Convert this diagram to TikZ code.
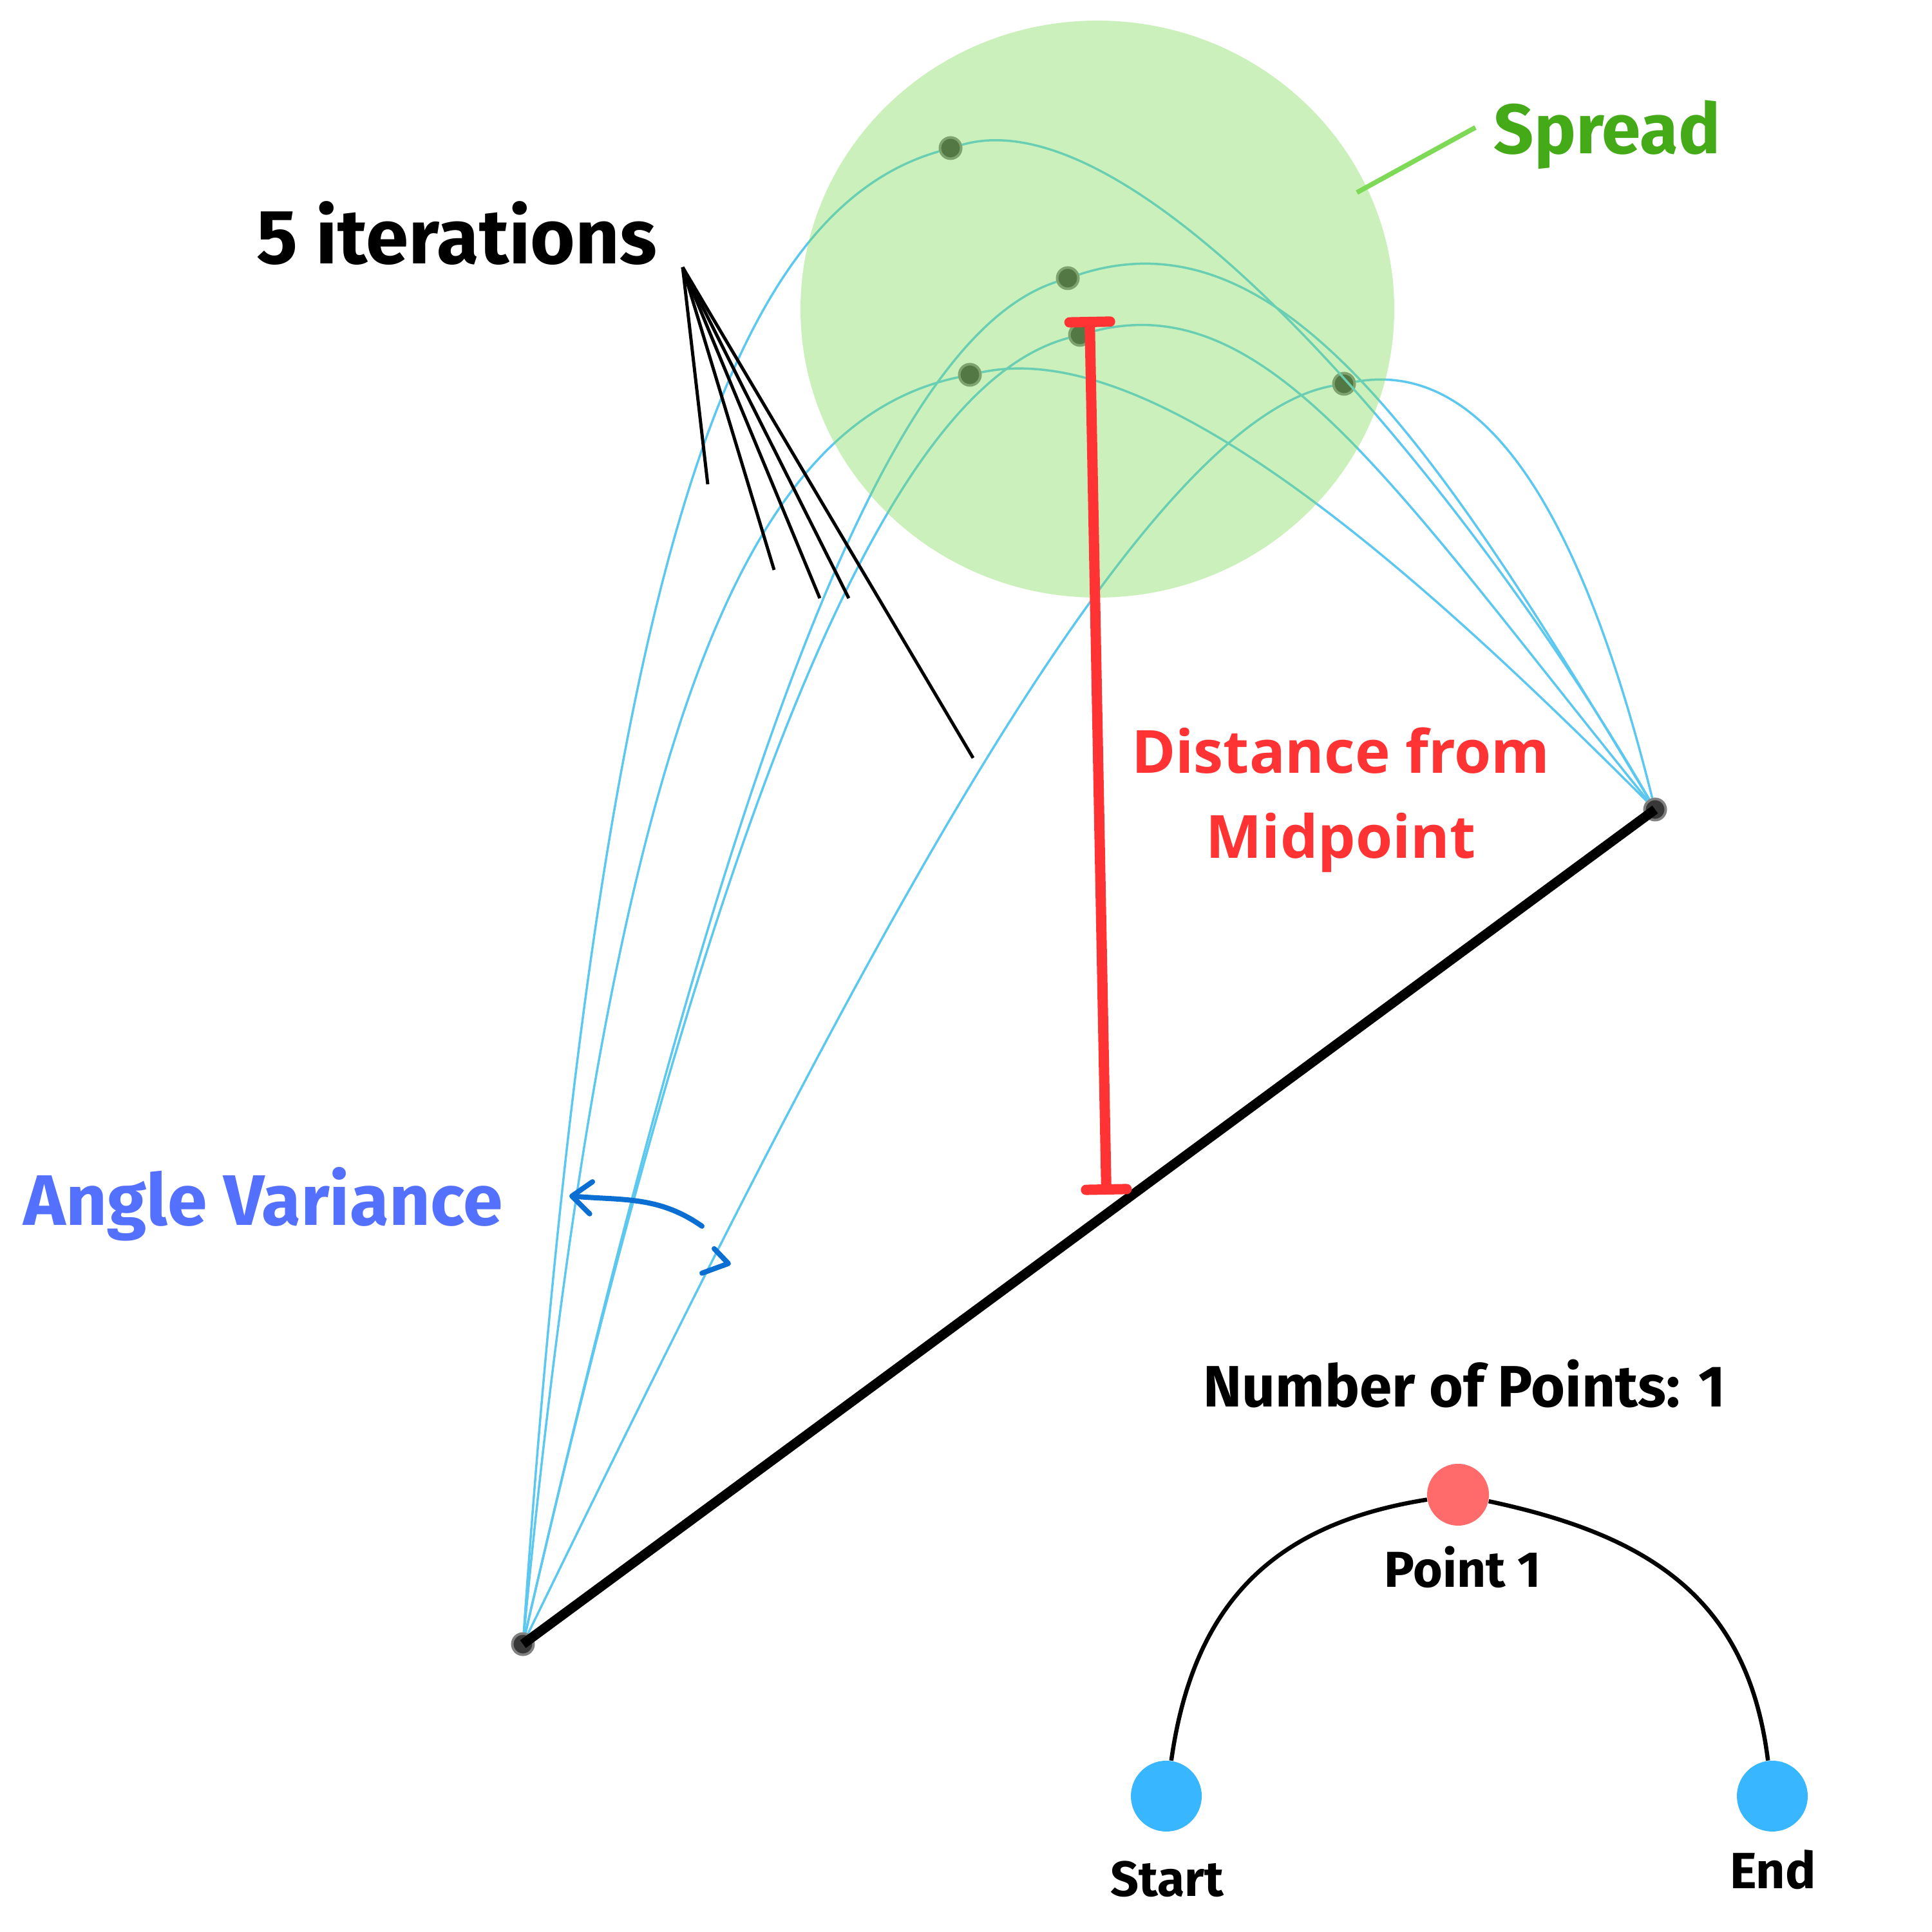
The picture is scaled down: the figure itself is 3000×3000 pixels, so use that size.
\documentclass[tikz,border=0pt]{standalone}
\usepackage{fontspec}
\setmainfont{Fira Sans}
\newfontfamily\redfont{Open Sans}
\usepackage{tikz}
\usetikzlibrary{arrows.meta, positioning}
\definecolor{trailblue}{RGB}{92, 200, 240}
\definecolor{spreadgreen}{RGB}{126, 217, 87}
\definecolor{labelgreen}{RGB}{68, 170, 23}
\definecolor{distred}{RGB}{255, 51, 51}
\definecolor{anglecol}{RGB}{84, 112, 255}
\definecolor{arrowblue}{RGB}{10, 110, 210}
\definecolor{endblue}{RGB}{56, 182, 255}
\definecolor{pointred}{RGB}{255, 107, 107}

\begin{document}
\begin{tikzpicture}[x=0.1mm, y=0.1mm, >=Stealth,
    knot/.style={circle, fill=black!78, draw=black!50, line width=0.4mm, inner sep=0pt, minimum size=3.3mm},
    trail/.style={trailblue, line width=0.35mm},
    fanline/.style={black, line width=0.5mm},
    bigdot/.style={circle, inner sep=0pt, minimum size=11mm},
    tag/.style={inner sep=0pt, anchor=base}]
    \useasboundingbox (0,0) rectangle (3000,3000);

    % start, end and the five sampled points
    \node[knot] (S) at (812,447) {};
    \node[knot] (E) at (2570,1743) {};
    \node[knot] (d1) at (1476,2770) {};
    \node[knot] (d2) at (1658,2568) {};
    \node[knot] (d3) at (1677,2480) {};
    \node[knot] (d4) at (1506,2418) {};
    \node[knot] (d5) at (2087,2404) {};

    % the five iterations
    \draw[trail] (S) .. controls +(86:1700) and +(196:350) .. (d1) .. controls +(16:320) and +(120:520) .. (E);
    \draw[trail] (S) .. controls +(77:1400) and +(198:300) .. (d2) .. controls +(18:350) and +(121:650) .. (E);
    \draw[trail] (S) .. controls +(77:1400) and +(195:300) .. (d3) .. controls +(15:300) and +(129:650) .. (E);
    \draw[trail] (S) .. controls +(84.5:1450) and +(192:350) .. (d4) .. controls +(12:300) and +(135:500) .. (E);
    \draw[trail] (S) .. controls +(64:1000) and +(190:350) .. (d5) .. controls +(10:250) and +(104:400) .. (E);

    \draw[line width=1.5mm] (S.center) -- (E.center);

    % spread
    \fill[spreadgreen, opacity=0.4] (1704,2520) ellipse [x radius=46.1mm, y radius=44.8mm];
    \node[tag, anchor=base west, text=labelgreen, font=\fontsize{31}{36}\selectfont\bfseries] (spread) at (2319,2761) {Spread};
    \coordinate (sprin) at (2107,2701);
    \coordinate (sprout) at (2291,2802);
    \draw[spreadgreen, line width=0.75mm] (sprin) -- (sprout);

    % distance from midpoint
    \coordinate (barlow) at (1718,1145);
    \coordinate (bartop) at (1692,2508);
    \draw[distred, line width=1.6mm, {Bar[width=6.3mm, round]}-{Bar[width=6.3mm, round]}] (barlow) -- (bartop);
    \node[inner sep=0pt, align=center, text=distred, font=\redfont\fontsize{26.3}{37.6}\selectfont\bfseries] (dist) at (2082,1758) {Distance from\\Midpoint};

    % iterations label
    \node[tag, anchor=base west, font=\fontsize{34}{40}\selectfont\bfseries] (iter) at (398,2590) {5 iterations};
    \coordinate (iterfan) at (1060,2585);
    \coordinate (it1) at (1099,2248);
    \coordinate (it2) at (1202,2115);
    \coordinate (it3) at (1273,2071);
    \coordinate (it4) at (1318,2071);
    \coordinate (it5) at (1511,1823);
    \foreach \k in {1,...,5}
        \draw[fanline] (iterfan) -- (it\k);

    % angle variance
    \node[tag, anchor=base west, text=anglecol, font=\fontsize{31.6}{36}\selectfont\bfseries] (angle) at (36,1097) {Angle Variance};
    \coordinate (avtail) at (1090,1096);
    \coordinate (avtip) at (884,1143);
    \draw[arrowblue, line width=0.8mm, line cap=round, -{Straight Barb[length=3mm, width=5mm, round]}] (avtail) to[out=145, in=-5] (avtip);
    \draw[arrowblue, line width=0.8mm, line cap=round, line join=round] (1109,1061) -- (1131,1038) -- (1090,1023);

    % number of points
    \node[tag, font=\fontsize{25.8}{30}\selectfont\bfseries] (npts) at (2274,815) {Number of Points: 1};
    \node[bigdot, fill=endblue] (start) at (1811,211) {};
    \node[bigdot, fill=endblue] (end) at (2752,211) {};
    \node[bigdot, fill=pointred, minimum size=9.6mm] (p1) at (2264,679) {};
    \draw[line width=0.65mm, looseness=1.1] (start) to[out=82, in=189] (p1) to[out=-12, in=97] (end);
    \node[tag, font=\fontsize{22.3}{26}\selectfont\bfseries] (p1lbl) at (2271,535) {Point 1};
    \node[tag, font=\fontsize{21.9}{26}\selectfont\bfseries] (startlbl) at (1812,56) {Start};
    \node[tag, font=\fontsize{22.5}{26}\selectfont\bfseries] (endlbl) at (2753,67) {End};
\end{tikzpicture}
\end{document}
